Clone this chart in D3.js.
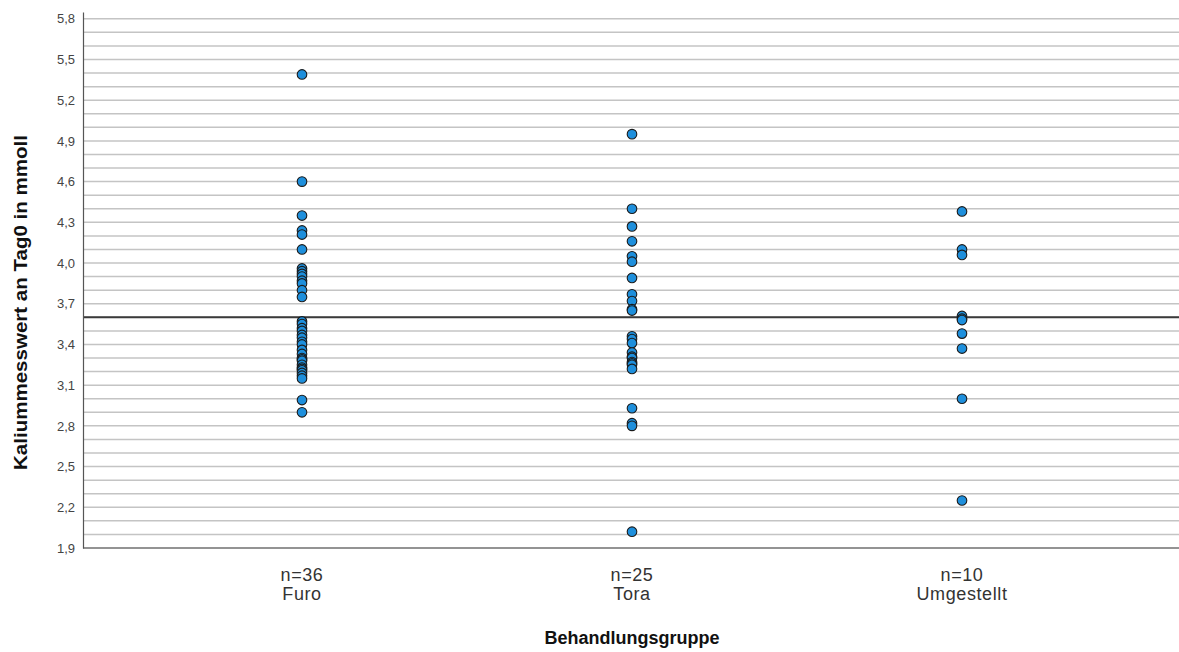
<!DOCTYPE html>
<html>
<head>
<meta charset="utf-8">
<script src="https://cdn.jsdelivr.net/npm/d3@7"></script>
<style>
  html, body { margin: 0; padding: 0; background: #fff; }
  svg { display: block; font-family: "Liberation Sans", Arial, sans-serif; }
</style>
</head>
<body>
<svg id="chart" width="1179" height="652"></svg>
<script>
// ---- data ----
const categories = ["Furo", "Tora", "Umgestellt"];
const furoValues = [5.39, 4.60, 4.35, 4.24, 4.21, 4.10,
  3.96, 3.94, 3.92, 3.90, 3.87, 3.85, 3.80, 3.75,
  3.57, 3.55, 3.52, 3.50, 3.47, 3.45, 3.42, 3.40, 3.36, 3.33,
  3.30, 3.29, 3.28, 3.25, 3.23, 3.22, 3.21, 3.19, 3.17, 3.15,
  2.99, 2.90];
const toraValues = [4.95, 4.40, 4.27, 4.16, 4.05, 4.01, 3.89, 3.77, 3.72, 3.66, 3.65,
  3.46, 3.44, 3.41, 3.34, 3.31, 3.30, 3.27, 3.26, 3.25, 3.22,
  2.93, 2.82, 2.80, 2.02];
const umgestelltValues = [4.38, 4.10, 4.06, 3.61, 3.59, 3.58, 3.48, 3.37, 3.00, 2.25];
const yTickValues = [1.9, 2.2, 2.5, 2.8, 3.1, 3.4, 3.7, 4.0, 4.3, 4.6, 4.9, 5.2, 5.5, 5.8];
const referenceLine = 3.6;
const xTitle = "Behandlungsgruppe";
const yTitle = "Kaliummesswert an Tag0 in mmoll";

const seriesValues = [furoValues, toraValues, umgestelltValues];

// ---- layout ----
const plotLeft = 83, plotRight = 1179, plotBottom = 548, plotTop = 12;
const svg = d3.select("#chart");

const y = d3.scaleLinear().domain([1.9, 5.85]).range([plotBottom, plotTop]);
const x = d3.scaleBand().domain(categories).range([137, 1127]).padding(0);

const locale = d3.formatLocale({decimal: ",", thousands: ".", grouping: [3], currency: ["", " €"]});
const fmt = locale.format(".1f");

// gridlines every 0.1
const gridVals = d3.range(19, 59).map(v => v / 10);
svg.append("g").selectAll("line").data(gridVals).join("line")
  .attr("x1", plotLeft).attr("x2", plotRight)
  .attr("y1", d => y(d)).attr("y2", d => y(d))
  .attr("stroke", "#c4c4c4").attr("stroke-width", 1.5);

// reference line
svg.append("line")
  .attr("x1", plotLeft).attr("x2", plotRight)
  .attr("y1", y(referenceLine)).attr("y2", y(referenceLine))
  .attr("stroke", "#3a3a3a").attr("stroke-width", 2);

// y axis
const yAxis = svg.append("g").attr("transform", `translate(${plotLeft},0)`)
  .call(d3.axisLeft(y).tickValues(yTickValues).tickSize(0).tickPadding(8).tickFormat(fmt));
yAxis.select(".domain").attr("stroke", "#555").attr("stroke-width", 1.2);
yAxis.selectAll("text").attr("font-size", 13).attr("fill", "#444")
  .attr("font-family", "Liberation Sans, Arial, sans-serif");

// x axis line
const xAxis = svg.append("g").attr("transform", `translate(0,${plotBottom})`)
  .call(d3.axisBottom(x).tickSize(0).tickFormat(""));
xAxis.select(".domain").attr("d", `M${plotLeft},0H${plotRight}`).attr("stroke", "#555").attr("stroke-width", 1.2);

// category labels
const catG = svg.append("g");
categories.forEach((c, i) => {
  const cx = x(c) + x.bandwidth() / 2;
  const t = catG.append("text").attr("x", cx).attr("y", plotBottom + 33)
    .attr("text-anchor", "middle").attr("font-size", 18).attr("fill", "#333")
    .attr("letter-spacing", 0.6);
  t.append("tspan").attr("x", cx).attr("dy", 0).text("n=" + seriesValues[i].length);
  t.append("tspan").attr("x", cx).attr("dy", 19).text(c);
});

// points
const pts = [];
categories.forEach((c, i) => seriesValues[i].forEach(v => pts.push({c, v})));
svg.append("g").selectAll("circle").data(pts).join("circle")
  .attr("cx", d => x(d.c) + x.bandwidth() / 2)
  .attr("cy", d => y(d.v))
  .attr("r", 4.8)
  .attr("fill", "#1e8fdc")
  .attr("stroke", "#1a1a1a")
  .attr("stroke-width", 1.1);

// titles
svg.append("text").attr("x", (x("Tora") + x.bandwidth() / 2)).attr("y", 644)
  .attr("text-anchor", "middle").attr("font-size", 18).attr("font-weight", "bold")
  .attr("fill", "#111").text(xTitle);

svg.append("text")
  .attr("transform", `translate(27,${(135 + 470) / 2}) rotate(-90)`)
  .attr("text-anchor", "middle").attr("font-size", 19).attr("font-weight", "bold")
  .attr("fill", "#111")
  .attr("textLength", 335).attr("lengthAdjust", "spacingAndGlyphs")
  .text(yTitle);
</script>
</body>
</html>
